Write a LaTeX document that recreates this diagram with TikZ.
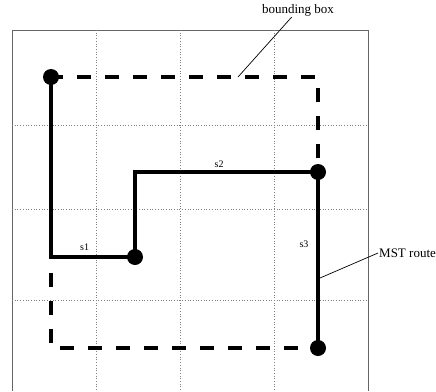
\documentclass[tikz,border=0pt]{standalone}
\usepackage{fontspec}
\setmainfont{Liberation Serif}
\usetikzlibrary{positioning}
\tikzset{
  pin/.style={circle, fill=black, inner sep=0pt, minimum size=16pt},
  route/.style={line width=3.2pt, black},
  bbox/.style={line width=3.2pt, black, dash pattern=on 14pt off 14pt},
  gridline/.style={gray, dotted, line width=0.7pt},
  frame/.style={gray!80!black, line width=1pt},
  seglabel/.style={font=\fontsize{10}{12}\selectfont, inner sep=2pt},
  note/.style={font=\fontsize{13}{15}\selectfont, inner sep=1pt},
  leader/.style={line width=0.7pt, black},
}

\begin{document}
\begin{tikzpicture}[x=1pt, y=-1pt]
  \useasboundingbox (0,0) rectangle (436,391);

  % frame and grid
  \draw[frame] (12,391) |- (368,30) -- (368,391);
  \foreach \gx in {96,180,274}
    \draw[gridline] (\gx,30) -- (\gx,391);
  \foreach \gy in {125,209,300}
    \draw[gridline] (12,\gy) -- (368,\gy);

  % pins
  \node[pin] (p1) at (51,77) {};
  \node[pin] (p2) at (135,257) {};
  \node[pin] (p3) at (318,172) {};
  \node[pin] (p4) at (318,348) {};

  % bounding box
  \draw[bbox] (p1.center) rectangle (p4.center);

  % MST route
  \draw[route] (p1.center) |- node[seglabel, pos=0.7, above=3pt] (s1) {s1} (p2.center);
  \draw[route] (p2.center) |- node[seglabel, pos=0.73, above=1pt] (s2) {s2} (p3.center);
  \draw[route] (p3.center) -- node[seglabel, pos=0.41, left=6pt] (s3) {s3} (p4.center);

  % annotations
  \node[note] (bbnote) at (298,10) {bounding box};
  \coordinate (bbtip) at (238,77);
  \draw[leader] (bbnote) -- (bbtip);

  \node[note, anchor=west] (mstnote) at (378,253) {MST route};
  \coordinate (msttip) at (320,278);
  \draw[leader] (mstnote.west) -- (msttip);
\end{tikzpicture}
\end{document}
